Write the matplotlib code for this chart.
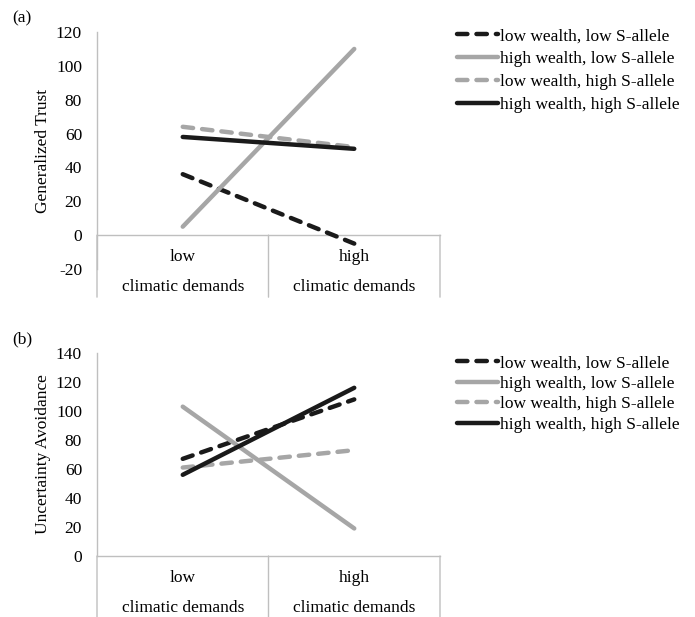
import matplotlib
matplotlib.use('Agg')
import matplotlib.pyplot as plt

plt.rcParams['font.family'] = ['Liberation Serif', 'DejaVu Serif']
plt.rcParams['lines.scale_dashes'] = False

# data
categories = ['low', 'high']
cat_sub = 'climatic demands'
series_names = ['low wealth, low S-allele', 'high wealth, low S-allele',
                'low wealth, high S-allele', 'high wealth, high S-allele']
trust = [[36, -5], [5, 110], [64, 52], [58, 51]]
avoid = [[67, 108], [103, 19], [61, 73], [56, 116]]
trust_ticks = [-20, 0, 20, 40, 60, 80, 100, 120]
avoid_ticks = [0, 20, 40, 60, 80, 100, 120, 140]

BLACK = '#1a1a1a'
GRAY = '#a6a6a6'
AXC = '#bfbfbf'
styles = [(BLACK, True), (GRAY, False), (GRAY, True), (BLACK, False)]
FS = 12.5

W, H = 695, 617
fig = plt.figure(figsize=(W / 100, H / 100), dpi=100)


def panel(top, bottom, ylim, ticks, values, ylabel, tag, leg_top, spacing):
    ax = fig.add_axes([97 / W, 1 - bottom / H, 343 / W, (bottom - top) / H])
    x = list(range(len(categories)))
    for (col, dashed), vals, name in zip(styles, values, series_names):
        if dashed:
            ax.plot(x, vals, color=col, lw=3.2, dashes=(7.5, 6.5),
                    dash_capstyle='round', label=name)
        else:
            ax.plot(x, vals, color=col, lw=3.2, solid_capstyle='round', label=name)
    ax.set_xlim(-0.5, 1.5)
    ax.set_ylim(*ylim)
    ax.set_yticks(ticks)
    ax.set_yticklabels([str(t) for t in ticks], fontsize=FS)
    ax.tick_params(axis='y', length=0, pad=10.8)
    ax.set_xticks([])
    for s in ['top', 'right', 'bottom']:
        ax.spines[s].set_visible(False)
    ax.spines['left'].set_color(AXC)
    ax.spines['left'].set_linewidth(1)
    ax.axhline(0, color=AXC, lw=1, clip_on=False, zorder=0)
    for xs in (-0.5, 0.5, 1.5):
        ax.annotate('', xy=(xs, 0), xytext=(0, -62), textcoords='offset pixels',
                    arrowprops=dict(arrowstyle='-', color=AXC, lw=1,
                                    shrinkA=0, shrinkB=0), annotation_clip=False)
    for xi, c in enumerate(categories):
        ax.annotate(c, xy=(xi, 0), xytext=(0, -22), textcoords='offset pixels',
                    ha='center', va='center', fontsize=FS, annotation_clip=False)
        ax.annotate(cat_sub, xy=(xi, 0), xytext=(0, -52), textcoords='offset pixels',
                    ha='center', va='center', fontsize=FS, annotation_clip=False)
    fig.text(43 / W, 1 - (top + bottom) / 2 / H, ylabel, rotation=90,
             ha='center', va='center', fontsize=FS)
    fig.text(22 / W, 1 - (top - 14) / H, tag, ha='center', va='center', fontsize=FS)
    ax.legend(loc='upper left', bbox_to_anchor=(457 / W, 1 - leg_top / H),
              bbox_transform=fig.transFigure, frameon=False, fontsize=FS,
              handlelength=2.36, handletextpad=0.1, borderpad=0,
              borderaxespad=0, labelspacing=spacing)
    return ax


panel(32, 269, (-20, 120), trust_ticks, trust, 'Generalized Trust', '(a)', 28, 0.39)
panel(353, 556, (0, 140), avoid_ticks, avoid, 'Uncertainty Avoidance', '(b)', 355, 0.26)

fig.savefig('out.png', dpi=100)
